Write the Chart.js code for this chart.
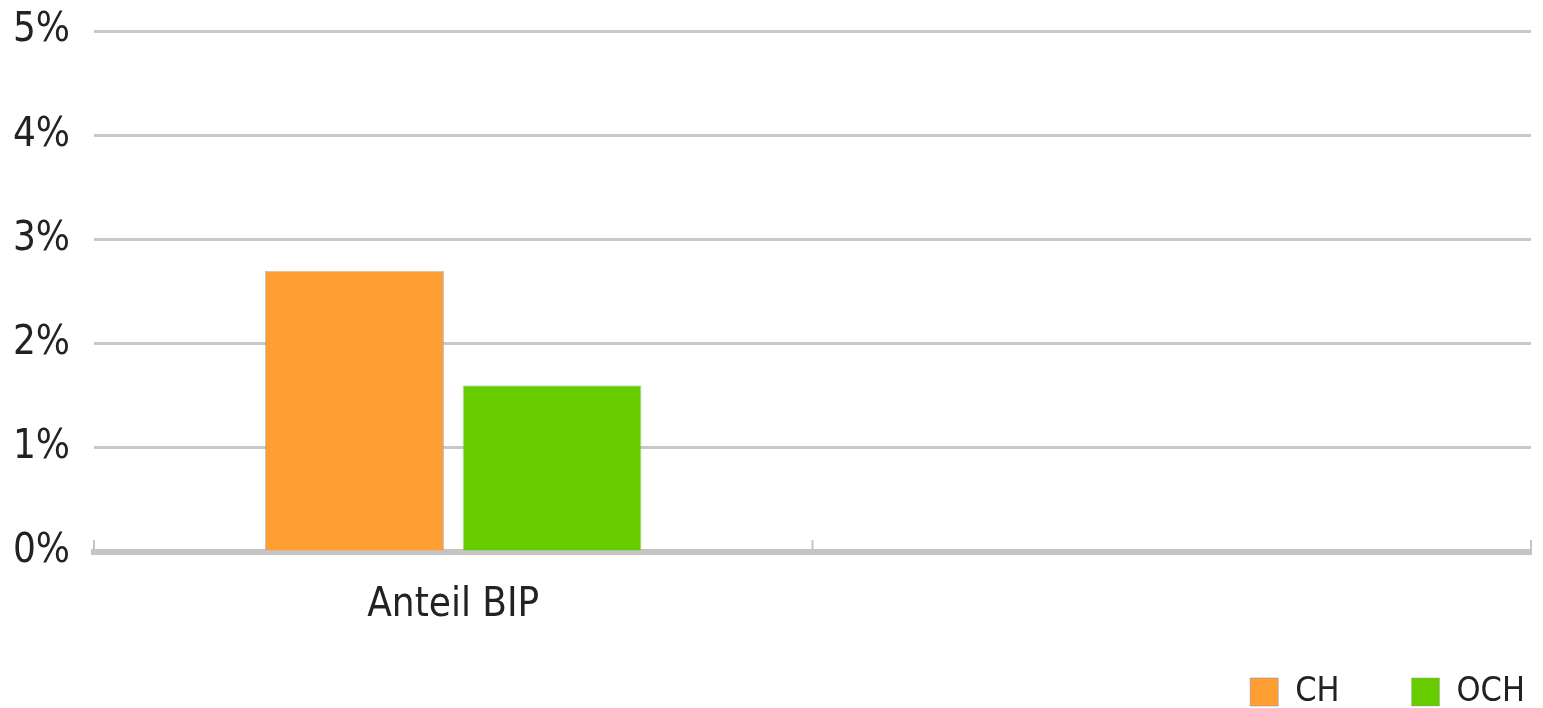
<!DOCTYPE html>
<html>
<head>
<meta charset="utf-8">
<script src="https://cdn.jsdelivr.net/npm/chart.js@4"></script>
<style>
    html, body { margin: 0; padding: 0; background: #ffffff; }
    #wrap { width: 1543px; height: 708px; }
</style>
</head>
<body>
<div id="wrap"><canvas id="myChart"></canvas></div>
<script>
// Werte aus der Grafik
let kategorien = ["Anteil BIP", ""];
let werteCH = [2.7, 0];
let werteOCH = [1.6, 0];
let yTicks = [0, 1, 2, 3, 4, 5];

let schrift = "'DejaVu Sans Condensed', 'DejaVu Sans', sans-serif";
let legendenAbstand = 72;

// kleine Striche nach oben an den Kategoriegrenzen
const achsenStriche = {
    id: "achsenStriche",
    afterDraw(chart) {
        let x = chart.scales.x;
        let ctx = chart.ctx;
        let halb = (x.getPixelForValue(1) - x.getPixelForValue(0)) / 2;
        let pos = [x.getPixelForValue(0) - halb];
        kategorien.forEach((k, i) => pos.push(x.getPixelForValue(i) + halb));
        ctx.save();
        ctx.strokeStyle = "#c4c4c4";
        ctx.lineWidth = 2;
        pos.forEach((p) => {
            ctx.beginPath();
            ctx.moveTo(p, x.top);
            ctx.lineTo(p, x.top - 12);
            ctx.stroke();
        });
        ctx.restore();
    },
};

// Legende: Abstand nur zwischen den Einträgen, etwas höher setzen
const legendeRechts = {
    id: "legendeRechts",
    afterLayout(chart) {
        let lg = chart.legend;
        if (!lg) return;
        lg.right += legendenAbstand - 6;
        lg.width += legendenAbstand - 6;
        lg.top -= 29;
        lg.bottom -= 29;
    },
};

let ctx = document.getElementById("myChart").getContext("2d");

let myChart = new Chart(ctx, {
    type: "bar",
    data: {
        labels: kategorien,
        datasets: [
            {
                label: "CH",
                data: werteCH,
                backgroundColor: "#ff9e33",
                borderColor: "rgba(150, 150, 150, 0.6)",
                borderWidth: 1,
                categoryPercentage: 0.55,
                barPercentage: 0.906,
            },
            {
                label: "OCH",
                data: werteOCH,
                backgroundColor: "#66cc00",
                borderColor: "rgba(150, 150, 150, 0.4)",
                borderWidth: 1,
                categoryPercentage: 0.55,
                barPercentage: 0.906,
            },
        ],
    },
    options: {
        responsive: true,
        maintainAspectRatio: false,
        animation: false,
        layout: {
            padding: { top: 31, right: 12, left: 0, bottom: -40 },
        },
        plugins: {
            tooltip: { enabled: false },
            legend: {
                position: "bottom",
                align: "end",
                labels: {
                    boxWidth: 28,
                    boxHeight: 28,
                    padding: legendenAbstand,
                    color: "#222222",
                    font: { family: schrift, size: 34 },
                },
            },
        },
        scales: {
            y: {
                min: 0,
                max: 5,
                afterFit: (scale) => {
                    scale.width = 94;
                    scale.paddingTop = 0;
                    scale.paddingBottom = 0;
                },
                afterBuildTicks: (scale) => {
                    scale.ticks = yTicks.map((v) => ({ value: v }));
                },
                border: { display: false },
                grid: {
                    color: "#c8c8c8",
                    lineWidth: 3,
                    drawTicks: false,
                },
                ticks: {
                    padding: 24,
                    color: "#222222",
                    font: { family: schrift, size: 40 },
                    callback: (v) => v + "%",
                },
            },
            x: {
                afterFit: (scale) => {
                    scale.height = 80;
                },
                border: { display: true, color: "#c4c4c4", width: 6 },
                grid: { display: false },
                ticks: {
                    padding: 22,
                    color: "#222222",
                    font: { family: schrift, size: 40 },
                },
            },
        },
    },
    plugins: [achsenStriche, legendeRechts],
});
</script>
</body>
</html>
